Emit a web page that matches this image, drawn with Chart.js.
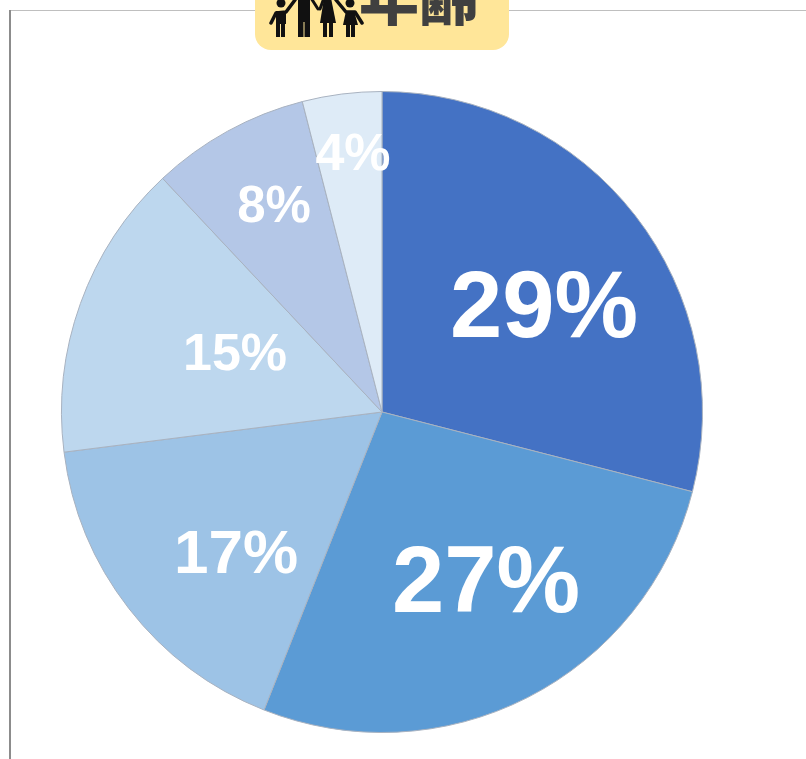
<!DOCTYPE html>
<html><head><meta charset="utf-8">
<style>html,body{margin:0;padding:0;background:#fff;overflow:hidden}canvas{display:block}</style>
<script src="https://cdn.jsdelivr.net/npm/chart.js@4"></script>
</head><body><canvas id="c" width="806" height="759"></canvas>
<script>
const categories = ['A','B','C','D','E','F'];
const values = [29,27,17,15,8,4];
const tickLabels = ['29%','27%','17%','15%','8%','4%'];
const titleText = '年齢';
const colors = ['#4472C4','#5B9BD5','#9DC3E6','#BDD7EE','#B4C7E7','#DEEBF7'];
const labelSizes = [94,94,62,52,51,52];
const labelOffsets = [[162,-101],[104,174],[-146,144],[-147,-56],[-108,-204],[-29,-256]];

const frame = {id:'frame',beforeDraw(ch){const x=ch.ctx;x.save();
  x.fillStyle='#bfbfbf';x.fillRect(10,10,796,1);
  x.fillStyle='#8c8c8c';x.fillRect(9,10,2,749);x.restore();}};
const labels = {id:'labels',afterDraw(ch){const x=ch.ctx,a=ch.getDatasetMeta(0).data[0];
  x.save();x.fillStyle='#fff';x.textAlign='center';x.textBaseline='middle';
  tickLabels.forEach((t,i)=>{x.font='bold '+labelSizes[i]+'px "Liberation Sans"';
    x.fillText(t,a.x+labelOffsets[i][0],a.y+labelOffsets[i][1]);});
  x.fillStyle='#FFE699';x.beginPath();x.roundRect(255,-20,254,70,16);x.fill();
  x.fillStyle='#404040';x.textAlign='left';x.textBaseline='alphabetic';
  x.font='900 60px "Noto Sans CJK JP"';x.fillText(titleText,359,20);
  x.fillStyle='#111';x.strokeStyle='#111';x.lineCap='round';x.lineJoin='round';
  const poly=p=>{x.beginPath();p.forEach((q,i)=>i?x.lineTo(q[0],q[1]):x.moveTo(q[0],q[1]));x.closePath();x.fill();};
  const line=(p,w)=>{x.lineWidth=w;x.beginPath();p.forEach((q,i)=>i?x.lineTo(q[0],q[1]):x.moveTo(q[0],q[1]));x.stroke();};
  const head=(cx,cy,r)=>{x.beginPath();x.arc(cx,cy,r,0,7);x.fill();};
  // left child
  head(281,3,4.5);
  x.fillRect(276,11,10,13);x.fillRect(276,23,4,14);x.fillRect(281,23,4,14);
  line([[271,23],[276,13],[286,12],[295,0]],3.5);
  // man
  x.fillRect(298,-2,12,24);x.fillRect(298,20,5.5,17);x.fillRect(304.5,20,5.5,17);
  line([[311,-2],[318,9]],3);
  // woman
  poly([[324,-2],[331,-2],[336,23],[320,23]]);
  x.fillRect(323,22,4,15);x.fillRect(329,22,4,15);
  line([[320,9],[324,-2]],3);
  // right child
  head(350,3,4.5);
  poly([[346,11],[354,11],[358,25],[343,25]]);
  x.fillRect(346,24,4,13);x.fillRect(351,24,4,13);
  line([[336,0],[346,12],[355,12],[362,23]],3.5);
  x.restore();}};

new Chart(document.getElementById('c'),{
  type:'pie',
  data:{labels:categories,datasets:[{data:values,backgroundColor:colors,borderColor:'#a8b2c0',borderWidth:1}]},
  options:{responsive:false,animation:false,
    layout:{padding:{left:61,right:103,top:91,bottom:26}},
    plugins:{legend:{display:false},tooltip:{enabled:false}}},
  plugins:[frame,labels]
});
</script></body></html>
